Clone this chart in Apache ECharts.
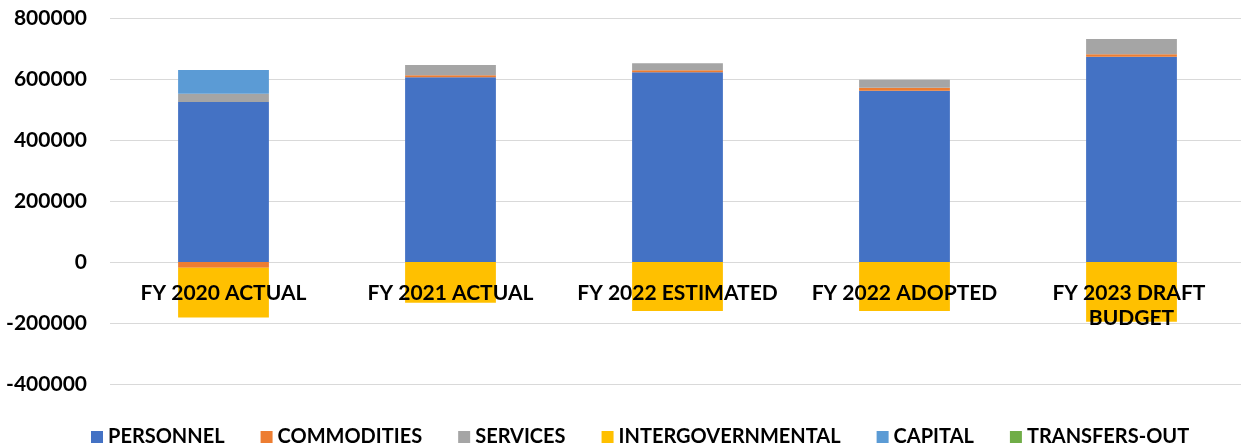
<!DOCTYPE html>
<html>
<head>
<meta charset="utf-8">
<script src="https://cdn.jsdelivr.net/npm/echarts@6/dist/echarts.min.js"></script>
<style>
  html, body { margin: 0; padding: 0; background: #fff; }
  #chart { width: 1241px; height: 447px; }
</style>
</head>
<body>
<div id="chart"></div>
<script>
// Budget categories by fiscal year
const categories = ['FY 2020 ACTUAL', 'FY 2021 ACTUAL', 'FY 2022 ESTIMATED', 'FY 2022 ADOPTED', 'FY 2023 DRAFT BUDGET'];

// Expense lines (stacked)
const personnel = [524600, 605600, 622000, 561700, 673200];
const commodities = [-19000, 6600, 6600, 9800, 7900];
const services = [27300, 33800, 23000, 26200, 50200];
const intergovernmental = [-163000, -133500, -160700, -160700, -195700];
const capital = [77700, 0, 0, 0, 0];
const transfersOut = [0, 0, 0, 0, 0];

const seriesDefs = [
  { name: 'PERSONNEL', data: personnel, color: '#4472C4' },
  { name: 'COMMODITIES', data: commodities, color: '#ED7D31' },
  { name: 'SERVICES', data: services, color: '#A5A5A5' },
  { name: 'INTERGOVERNMENTAL', data: intergovernmental, color: '#FFC000' },
  { name: 'CAPITAL', data: capital, color: '#5B9BD5' },
  { name: 'TRANSFERS-OUT', data: transfersOut, color: '#70AD47' }
];

const FONT = 'Lato';

// Category labels sit just under the zero line, overlapping the bars
const GRID_TOP = 18;
const GRID_HEIGHT = 366;
const Y_MIN = -400000;
const Y_MAX = 800000;
const zeroOffset = GRID_HEIGHT * (0 - Y_MIN) / (Y_MAX - Y_MIN);

const chart = echarts.init(document.getElementById('chart'), null, { renderer: 'canvas' });
chart.setOption({
  animation: false,
  backgroundColor: '#ffffff',
  color: seriesDefs.map(s => s.color),
  grid: {
    left: 110, top: GRID_TOP, width: 1135, height: GRID_HEIGHT,
    containLabel: false,
    outerBoundsMode: 'none'
  },
  legend: {
    top: 422,
    left: 86,
    icon: 'rect',
    itemWidth: 12,
    itemHeight: 12,
    itemGap: 36,
    textStyle: { fontFamily: FONT, fontWeight: 'bold', fontSize: 20, color: '#000' },
    data: seriesDefs.map(s => s.name)
  },
  xAxis: {
    type: 'category',
    data: categories,
    z: 10,
    axisLine: { show: false },
    axisTick: { show: false },
    axisLabel: {
      interval: 0,
      margin: 19 - zeroOffset,
      color: '#000',
      fontFamily: FONT,
      fontWeight: 'bold',
      fontSize: 21,
      lineHeight: 25,
      width: 215,
      overflow: 'break'
    }
  },
  yAxis: {
    type: 'value',
    min: Y_MIN,
    max: Y_MAX,
    interval: 200000,
    axisLine: { show: false },
    axisTick: { show: false },
    splitLine: { lineStyle: { color: '#d9d9d9', width: 1 } },
    axisLabel: {
      margin: 23,
      color: '#000',
      fontFamily: FONT,
      fontWeight: 'bold',
      fontSize: 21,
      formatter: v => String(v)
    }
  },
  series: seriesDefs.map(s => ({
    name: s.name,
    type: 'bar',
    stack: 'total',
    barWidth: '40%',
    data: s.data,
    itemStyle: { color: s.color }
  }))
});
</script>
</body>
</html>
